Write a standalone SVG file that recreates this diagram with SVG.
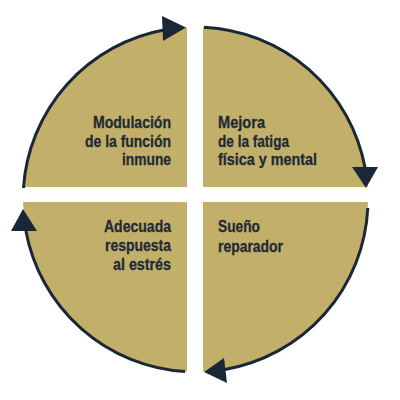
<svg xmlns="http://www.w3.org/2000/svg" width="400" height="400" viewBox="0 0 400 400">
<style>
.q{fill:#c2b06a;}
.arc{fill:none;stroke:#1b2737;stroke-width:3;}
.head{fill:#1b2737;}
.t{font-family:"Liberation Sans",Arial,sans-serif;font-weight:bold;font-size:16.5px;fill:#1f2a36;stroke:#1f2a36;stroke-width:0.3px;}
.r{text-anchor:end;}
</style>
<rect width="400" height="400" fill="#ffffff"/>
<g id="node-inmune">
<path class="q" d="M187,187 L23.45,187 A172.5,172.5 0 0 1 187,27.2 Z"/>
<text class="t r" x="171" y="128" textLength="78" lengthAdjust="spacingAndGlyphs">Modulación</text>
<text class="t r" x="171" y="146.5" textLength="86" lengthAdjust="spacingAndGlyphs">de la función</text>
<text class="t r" x="171" y="165" textLength="49" lengthAdjust="spacingAndGlyphs">inmune</text>
</g>
<g id="node-fatiga">
<path class="q" d="M203,187 L203,27.16 A172.5,172.5 0 0 1 367.55,187 Z"/>
<text class="t" x="218" y="128" textLength="47" lengthAdjust="spacingAndGlyphs">Mejora</text>
<text class="t" x="218" y="146.5" textLength="71" lengthAdjust="spacingAndGlyphs">de la fatiga</text>
<text class="t" x="218" y="165" textLength="99" lengthAdjust="spacingAndGlyphs">física y mental</text>
</g>
<g id="node-sueno">
<path class="q" d="M203,202 L367.98,202 A172.5,172.5 0 0 1 203,371.84 Z"/>
<text class="t" x="218" y="232" textLength="42" lengthAdjust="spacingAndGlyphs">Sueño</text>
<text class="t" x="218" y="251.5" textLength="65" lengthAdjust="spacingAndGlyphs">reparador</text>
</g>
<g id="node-estres">
<path class="q" d="M187,202 L187,371.79 A172.5,172.5 0 0 1 23.02,202 Z"/>
<text class="t r" x="171" y="232" textLength="67" lengthAdjust="spacingAndGlyphs">Adecuada</text>
<text class="t r" x="171" y="251" textLength="66" lengthAdjust="spacingAndGlyphs">respuesta</text>
<text class="t r" x="171" y="270" textLength="58" lengthAdjust="spacingAndGlyphs">al estrés</text>
</g>
<g id="connectors">
<path class="arc" d="M23.45,188 A172.5,172.5 0 0 1 165,29.7"/>
<polygon class="head" points="186,27.5 162,16 163,41"/>
<path class="arc" d="M204,27.2 A172.5,172.5 0 0 1 365.1,168"/>
<polygon class="head" points="366,188 352,167 378,167"/>
<path class="arc" d="M367.79,208 A172.5,172.5 0 0 1 225,369.46"/>
<polygon class="head" points="204,372 224,358 227,383"/>
<path class="arc" d="M185,371.6 A172.5,172.5 0 0 1 25.9,231"/>
<polygon class="head" points="23,209 11,231 37,231"/>
</g>
</svg>
